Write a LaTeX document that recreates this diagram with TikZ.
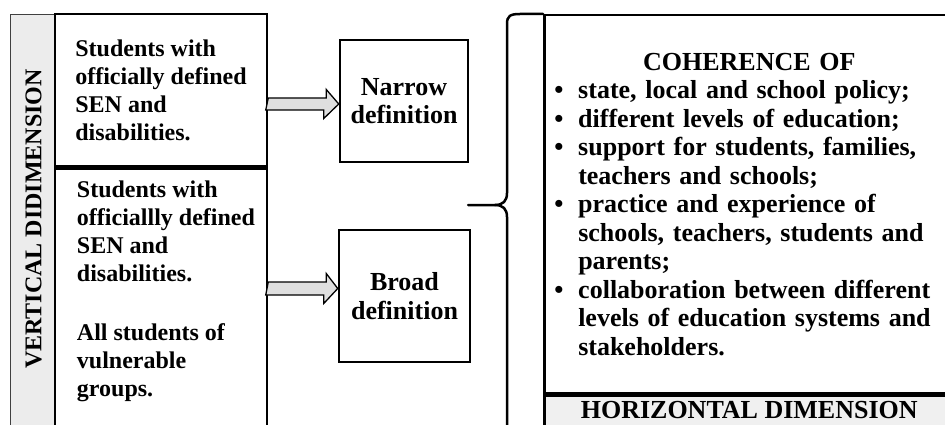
\documentclass[tikz,border=0pt]{standalone}
\usepackage{fontspec}
\setmainfont{Liberation Serif}
\usetikzlibrary{positioning,calc}
\newcommand{\cohbullet}{\makebox[24pt][l]{\textbullet}}
\newcommand{\cohindent}{\hspace*{24pt}}
\begin{document}
\begin{tikzpicture}
	[x=1pt,y=-1pt,
	 dimframe/.style={draw,line width=2.5pt,inner sep=0pt},
	 stripbox/.style={draw=black!75,line width=1pt,fill=gray!15,inner sep=0pt},
	 lefttext/.style={align=left,font=\fontsize{24}{28}\selectfont\bfseries,inner sep=0pt},
	 boxtext/.style={font=\fontsize{26}{28.5}\selectfont\bfseries},
	 fatarrow/.style={draw,line width=1.3pt,fill=gray!25,line join=miter},
	 bracepath/.style={line width=2.5pt,line cap=round}]
	\useasboundingbox (0,0) rectangle (945,425);
	\clip (0,0) rectangle (945,425);
	% vertical strip
	\node[stripbox,minimum width=45,minimum height=430,anchor=north west] (vdim) at (10,14) {};
	\node[rotate=90,font=\fontsize{24}{28}\selectfont\bfseries,inner sep=0pt] (vdimtxt) at (33.5,219) {VERTICAL DIDIMENSION};
	% left boxes
	\node[dimframe,lefttext,minimum width=212,minimum height=152] (sen) at (161,90)
		{Students with\\officially defined\\SEN and\\disabilities.};
	\node[dimframe,minimum width=212,minimum height=290,anchor=north west] (brdbox) at (sen.south west) {};
	\node[lefttext,anchor=north west] (brdtxt) at ($(brdbox.north west)+(23,13)$)
		{Students with\\officiallly defined\\SEN and\\disabilities.\\[31pt]All students of\\vulnerable\\groups.};
	% definitions
	\node[dimframe,boxtext,align=center,minimum width=128,minimum height=122] (narrow) at (404,101) {Narrow\\definition};
	\node[dimframe,boxtext,align=center,minimum width=131,minimum height=132] (broad) at (404.5,296) {Broad\\definition};
	% arrows
	\coordinate (a1s) at (sen.east |- 0,104);
	\coordinate (a2s) at (brdbox.east |- 0,288.5);
	\filldraw[fatarrow] (a1s) ++(0,-6) -- ++(58,0) -- ++(0,-8.5) -- (narrow.west |- a1s)
		-- ++(-15,14.5) -- ++(0,-8.5) -- ++(-58,0) -- cycle;
	\filldraw[fatarrow] (a2s) ++(0,-6.5) -- ++(58,0) -- ++(0,-8.5) -- (broad.west |- a2s)
		-- ++(-14,15) -- ++(0,-8.5) -- ++(-58,0) -- cycle;
	% horizontal dimension
	\node[dimframe,boxtext,anchor=north west,text width=390,inner xsep=10,
		minimum width=410,minimum height=378,align=left] (coh) at (543,14)
		{\makebox[390pt]{COHERENCE OF}\\
		 \cohbullet state, local and school policy;\\
		 \cohbullet different levels of education;\\
		 \cohbullet support for students, families,\\
		 \cohindent teachers and schools;\\
		 \cohbullet practice and experience of\\
		 \cohindent schools, teachers, students and\\
		 \cohindent parents;\\
		 \cohbullet collaboration between different\\
		 \cohindent levels of education systems and\\
		 \cohindent stakeholders.};
	\node[dimframe,fill=gray!12,boxtext,anchor=north west,minimum width=410,
		text height=11,text depth=0,inner ysep=12] (hdim) at (coh.south west) {HORIZONTAL DIMENSION};
	% brace
	\draw[bracepath] (468,205) -- (495,205) .. controls (503,205) and (507,201) .. (507,193)
		-- (507,24) .. controls (507,16) and (510,14) .. (520,14) -- (coh.north west);
	\draw[bracepath] (495,205) .. controls (503,205) and (507,209) .. (507,217) -- (507,440);
\end{tikzpicture}
\end{document}
